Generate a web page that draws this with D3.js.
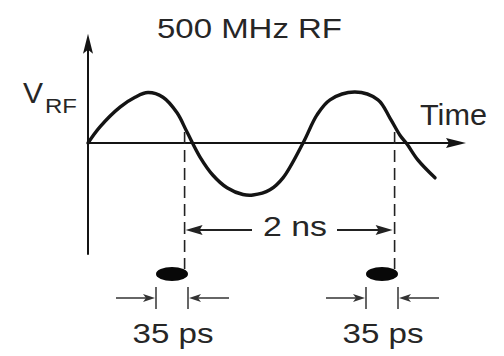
<!DOCTYPE html>
<html>
<head>
<meta charset="utf-8">
<script src="https://cdn.jsdelivr.net/npm/d3@7"></script>
<style>
  html, body { margin: 0; padding: 0; background: #ffffff; }
  svg { display: block; }
  text { font-family: "Liberation Sans", Arial, Helvetica, sans-serif; fill: #262626; }
</style>
</head>
<body>
<svg id="chart" width="504" height="356"></svg>
<script>
// ---- data ----
const titleText = "500 MHz RF";
const yLabel = "V";
const yLabelSub = "RF";
const xLabel = "Time";
// RF waveform samples: time (ns) and normalised voltage
const waveT = [0, 0.114, 0.305, 0.448, 0.571, 0.714, 0.848, 0.943, 1.067, 1.190, 1.324, 1.476, 1.571, 1.733, 1.857, 2.048, 2.181, 2.305, 2.543, 2.762, 2.876, 2.971, 3.038, 3.143, 3.305];
const waveV = [0, 0.31, 0.69, 0.88, 0.97, 0.88, 0.58, 0.21, -0.27, -0.62, -0.86, -0.99, -1.0, -0.90, -0.67, 0, 0.54, 0.83, 0.98, 0.83, 0.48, 0.15, -0.02, -0.33, -0.67];
// bunch arrival times (ns), separated by one RF period
const bunchT = [0.92, 2.92];
const spacingLabel = "2 ns";
const bunchLabels = ["35 ps", "35 ps"];

// ---- scales ----
const svg = d3.select("#chart");
const x = d3.scaleLinear().domain([0, 3.6]).range([88, 466]);
const y = d3.scaleLinear().domain([-1, 1]).range([195, 91]);
const ink = "#141414";

function arrowHead(tipX, tipY, dir, len, half) {
  if (dir === "up") {
    return `M${tipX},${tipY} L${tipX - half},${tipY + len} L${tipX},${tipY + len - 4} L${tipX + half},${tipY + len} Z`;
  }
  const bx = tipX - dir * len;
  return `M${tipX},${tipY} L${bx},${tipY - half} L${bx + dir * 3},${tipY} L${bx},${tipY + half} Z`;
}

// ---- axes ----
const yTop = y(2.1), yBottom = y(-2.15);
svg.append("line").attr("x1", x(0)).attr("x2", x(0)).attr("y1", yTop + 6).attr("y2", yBottom)
  .attr("stroke", ink).attr("stroke-width", 2);
svg.append("path").attr("d", arrowHead(x(0), yTop, "up", 20, 5)).attr("fill", ink);

const xEnd = x(3.6);
svg.append("line").attr("x1", x(0)).attr("x2", xEnd - 6).attr("y1", y(0)).attr("y2", y(0))
  .attr("stroke", ink).attr("stroke-width", 2);
svg.append("path").attr("d", arrowHead(xEnd, y(0), 1, 20, 5)).attr("fill", ink);

// ---- waveform ----
const wave = waveT.map((t, i) => [t, waveV[i]]);
svg.append("path")
  .datum(wave)
  .attr("d", d3.line().x(d => x(d[0])).y(d => y(d[1])).curve(d3.curveCatmullRom.alpha(0.5)))
  .attr("fill", "none").attr("stroke", ink).attr("stroke-width", 3.4)
  .attr("stroke-linecap", "round").attr("stroke-linejoin", "round");

// ---- labels ----
svg.append("text").attr("x", 249.5).attr("y", 38).attr("text-anchor", "middle")
  .attr("font-size", 28).attr("textLength", 185).attr("lengthAdjust", "spacingAndGlyphs")
  .text(titleText);
const vl = svg.append("text").attr("x", 23).attr("y", 103).attr("font-size", 30);
vl.append("tspan").text(yLabel);
vl.append("tspan").attr("x", 45).attr("y", 113).attr("font-size", 21)
  .attr("textLength", 32).attr("lengthAdjust", "spacingAndGlyphs").text(yLabelSub);
svg.append("text").attr("x", 420).attr("y", 125).attr("font-size", 30)
  .attr("textLength", 67).attr("lengthAdjust", "spacingAndGlyphs").text(xLabel);

// ---- dashed bunch markers ----
const bunchRx = 16, bunchRy = 7, bunchCy = 274, bunchOffset = -0.12;
bunchT.forEach(t => {
  svg.append("line").attr("x1", x(t)).attr("x2", x(t)).attr("y1", 132).attr("y2", bunchCy - 5)
    .attr("stroke", "#222").attr("stroke-width", 1.6).attr("stroke-dasharray", "12,6");
});

// ---- bunch spacing arrow ----
const arrowY = 230;
const x1 = x(bunchT[0]), x2 = x(bunchT[1]);
svg.append("line").attr("x1", x1 + 8).attr("x2", 252).attr("y1", arrowY).attr("y2", arrowY)
  .attr("stroke", "#222").attr("stroke-width", 2);
svg.append("path").attr("d", arrowHead(x1 + 1, arrowY, -1, 17, 5)).attr("fill", "#222");
svg.append("line").attr("x1", 337).attr("x2", x2 - 8).attr("y1", arrowY).attr("y2", arrowY)
  .attr("stroke", "#222").attr("stroke-width", 2);
svg.append("path").attr("d", arrowHead(x2 - 2, arrowY, 1, 17, 5)).attr("fill", "#222");
svg.append("text").attr("x", 295).attr("y", 236).attr("text-anchor", "middle")
  .attr("font-size", 28).attr("textLength", 64).attr("lengthAdjust", "spacingAndGlyphs")
  .text(spacingLabel);

// ---- bunches and their width markers ----
bunchT.forEach((t, i) => {
  const cx = x(t + bunchOffset);
  svg.append("ellipse").attr("cx", cx).attr("cy", bunchCy).attr("rx", bunchRx).attr("ry", bunchRy)
    .attr("fill", "#080808");
  const lx = cx - bunchRx, rx = cx + bunchRx;
  [lx, rx].forEach(xx => {
    svg.append("line").attr("x1", xx).attr("x2", xx).attr("y1", 287).attr("y2", 309)
      .attr("stroke", "#333").attr("stroke-width", 1.5);
  });
  const ay = 298;
  svg.append("line").attr("x1", lx - 40).attr("x2", lx - 6).attr("y1", ay).attr("y2", ay)
    .attr("stroke", "#333").attr("stroke-width", 1.5);
  svg.append("path").attr("d", arrowHead(lx - 1, ay, 1, 12, 4)).attr("fill", "#333");
  svg.append("line").attr("x1", rx + 6).attr("x2", rx + 41).attr("y1", ay).attr("y2", ay)
    .attr("stroke", "#333").attr("stroke-width", 1.5);
  svg.append("path").attr("d", arrowHead(rx + 1, ay, -1, 12, 4)).attr("fill", "#333");
  svg.append("text").attr("x", cx + 1).attr("y", 343).attr("text-anchor", "middle")
    .attr("font-size", 28).attr("textLength", 81).attr("lengthAdjust", "spacingAndGlyphs")
    .text(bunchLabels[i]);
});
</script>
</body>
</html>
